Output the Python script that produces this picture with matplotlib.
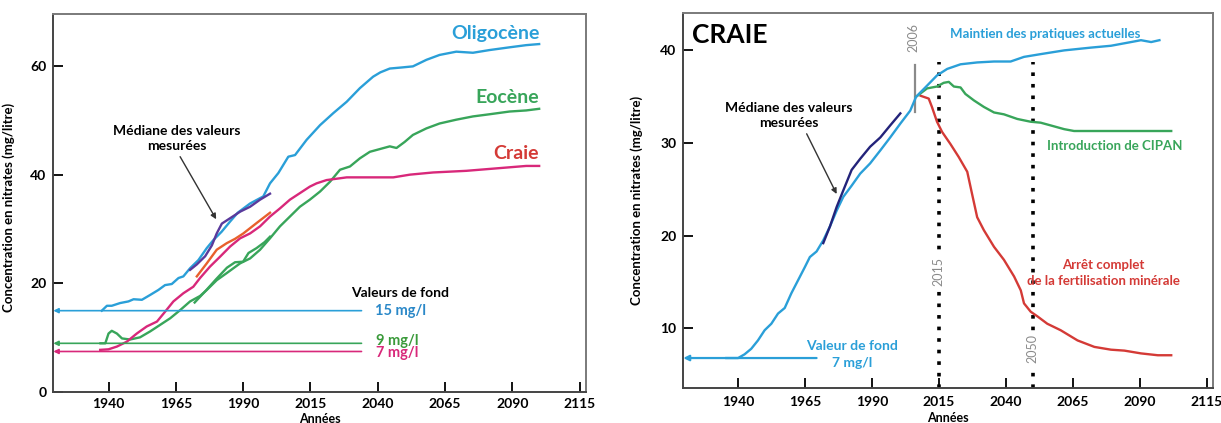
import matplotlib
matplotlib.use("Agg")
import matplotlib.pyplot as plt

plt.rcParams['font.family'] = ['Lato', 'DejaVu Sans']
plt.rcParams['font.weight'] = 'bold'

# ---------------- left panel data ----------------
oligo_years = [1937.5, 1939.4, 1941.2, 1944.3, 1947.4, 1949.3, 1952.4, 1955.5, 1958.5, 1961, 1963.5,
               1966, 1967.8, 1970.3, 1973.4, 1976.5, 1979, 1982, 1985.2, 1988, 1992.6, 1997.5, 2000,
               2003.1, 2006.8, 2009.3, 2013.6, 2018.6, 2023.5, 2028.5, 2033.4, 2038.3, 2041, 2044.5,
               2049, 2053.1, 2058.1, 2063, 2069.2, 2075.4, 2081.6, 2089, 2095.2, 2100]
oligo_vals = [15.0, 15.9, 15.9, 16.4, 16.7, 17.1, 17.0, 17.9, 18.8, 19.7, 19.9,
              21.0, 21.3, 22.8, 24.3, 26.5, 28.0, 29.5, 31.4, 33.0, 34.7, 36.0, 38.4,
              40.3, 43.3, 43.6, 46.4, 49.1, 51.3, 53.4, 55.9, 58.0, 58.8, 59.5,
              59.7, 59.9, 61.1, 62.0, 62.6, 62.4, 62.9, 63.4, 63.8, 64.0]

craie_years = [1936.9, 1940, 1943.1, 1946.8, 1950.5, 1954.2, 1958, 1961, 1964.1, 1967.8, 1971.5,
               1974, 1977.7, 1981.4, 1985.2, 1988.9, 1992.6, 1996.3, 2000, 2003.7, 2007.4, 2011.1,
               2014.8, 2017.3, 2021, 2028.5, 2037.1, 2045.8, 2052, 2060.6, 2072.9, 2085.3, 2095.2, 2100]
craie_vals = [7.8, 7.9, 8.4, 9.3, 10.8, 12.1, 13.0, 14.8, 16.7, 18.2, 19.4,
              21.0, 23.1, 24.9, 26.8, 28.3, 29.2, 30.5, 32.3, 33.8, 35.4, 36.6,
              37.8, 38.4, 39.0, 39.5, 39.5, 39.5, 40.0, 40.4, 40.7, 41.2, 41.6, 41.6]

craie_mes_years = [1972.8, 1976.5, 1980.2, 1983.9, 1987, 1990.1, 1995, 2000]
craie_mes_vals = [21.3, 23.7, 26.2, 27.4, 28.2, 29.2, 31.1, 33.0]

eoc_years = [1937, 1938.8, 1940, 1941.2, 1943.1, 1945, 1948, 1951.7, 1955.5, 1959.2, 1962.9, 1966.6,
             1970.3, 1974, 1976.5, 1980.2, 1983.9, 1988.9, 1992.6, 1996.3, 2000, 2003.7, 2007.4,
             2011.1, 2014.8, 2018.6, 2022.3, 2026, 2029.7, 2033.4, 2037.1, 2040.8, 2044.5, 2047,
             2050, 2053.1, 2058.1, 2063, 2069.2, 2075.4, 2081.6, 2089, 2095.2, 2100]
eoc_vals = [9.0, 9.0, 10.8, 11.3, 10.8, 9.9, 9.7, 10.1, 11.2, 12.4, 13.6, 15.1,
            16.7, 17.7, 18.8, 20.6, 21.9, 23.7, 24.6, 26.2, 28.3, 30.5, 32.3,
            34.1, 35.4, 36.9, 38.7, 40.9, 41.5, 43.0, 44.2, 44.7, 45.2, 44.9,
            46.0, 47.3, 48.5, 49.4, 50.1, 50.7, 51.1, 51.6, 51.8, 52.1]

eoc_mes_years = [1972, 1976, 1980, 1984, 1987, 1990, 1992, 1995, 1998, 2000]
eoc_mes_vals = [16.5, 18.6, 20.8, 22.9, 23.9, 24.0, 25.6, 26.5, 27.6, 28.6]

oligo_mes_years = [1970.3, 1972.8, 1975.9, 1978.4, 1980.2, 1982.1, 1985.2, 1988.9, 1992.6, 1996.3, 2000]
oligo_mes_vals = [22.5, 23.5, 25.0, 27.0, 29.2, 31.0, 32.0, 33.2, 34.1, 35.4, 36.5]

fond_vals = [15, 9, 7.5]
fond_labels = ['15 mg/l', '9 mg/l', '7 mg/l']
fond_end = 2034

# ---------------- right panel data ----------------
maint_years = [1935.6, 1940, 1942.4, 1944.9, 1947.4, 1949.9, 1952.4, 1954.9, 1957.4, 1959.9, 1962.4,
               1964.9, 1966.8, 1969.3, 1971.8, 1974.3, 1976.8, 1979.3, 1982.4, 1985.6, 1989.3, 1993.1,
               1996.8, 2000.6, 2004.3, 2006.5, 2010.6, 2014.3, 2018.1, 2023.1, 2029.3, 2035.6, 2041.8,
               2046.8, 2053.1, 2061.8, 2071.8, 2079.3, 2086.8, 2090.5, 2094.3, 2097.4]
maint_vals = [6.8, 6.8, 7.2, 7.8, 8.7, 9.8, 10.5, 11.6, 12.2, 13.8, 15.2,
              16.6, 17.7, 18.3, 19.5, 21.0, 22.7, 24.2, 25.4, 26.7, 27.8, 29.2,
              30.6, 32.1, 33.5, 35.0, 36.2, 37.3, 38.0, 38.5, 38.7, 38.8, 38.8,
              39.3, 39.6, 40.0, 40.3, 40.5, 40.9, 41.1, 40.9, 41.1]

med_years = [1971.8, 1974.3, 1976.8, 1979.3, 1982.4, 1985.6, 1989.3, 1993.1, 1996.8, 2000.6]
med_vals = [19.2, 21.0, 23.1, 24.9, 27.1, 28.3, 29.6, 30.6, 31.9, 33.2]

cipan_years = [2006.5, 2010.6, 2014.3, 2016.8, 2018.7, 2020.6, 2023.1, 2024.9, 2028.1, 2031.8, 2035.6,
               2039.3, 2044.3, 2049.3, 2053, 2056.8, 2061.8, 2065.5, 2074.3, 2086.8, 2101.8]
cipan_vals = [35.0, 35.9, 36.1, 36.5, 36.6, 36.1, 36.0, 35.3, 34.6, 33.9, 33.3,
              33.1, 32.6, 32.3, 32.2, 31.9, 31.5, 31.3, 31.3, 31.3, 31.3]

arret_years = [2008.2, 2011.2, 2012.4, 2014.3, 2016.2, 2019.3, 2022.4, 2025.6, 2027.4, 2029.3, 2031.8,
               2035.6, 2039.3, 2043.1, 2045.6, 2046.8, 2049.3, 2051.8, 2055.5, 2060.5, 2066.8, 2073.1,
               2079.3, 2084.3, 2090.5, 2096.8, 2101.8]
arret_vals = [35.1, 34.8, 33.9, 32.3, 31.2, 29.9, 28.5, 26.9, 24.5, 22.0, 20.6,
              18.8, 17.4, 15.6, 14.1, 12.7, 11.8, 11.3, 10.5, 9.8, 8.7, 8.0,
              7.7, 7.6, 7.3, 7.1, 7.1]

fond_craie = 6.8
fond_craie_end = 1969.3
key_years = [2015, 2050]
year_2006 = 2006

x_ticks = [1940, 1965, 1990, 2015, 2040, 2065, 2090, 2115]
x_lim = (1919.5, 2117.3)

C_BLUE = '#2a9fd8'
C_GREEN = '#38a55a'
C_PINK = '#d8287a'
C_RED = '#d43a36'
C_ORANGE = '#e8602c'
C_PURPLE = '#5a3a9c'
C_NAVY = '#23237a'
C_GRAY = '#8a8a8a'


def style_axes(ax, yticks, ylim):
    ax.set_xlim(*x_lim)
    ax.set_ylim(*ylim)
    ax.set_xticks(x_ticks)
    ax.set_yticks(yticks)
    ax.tick_params(direction='in', length=7, width=1.3, labelsize=10, colors='black')
    ax.tick_params(axis='x', pad=4)
    ax.tick_params(axis='y', pad=5)
    for lab in ax.get_xticklabels() + ax.get_yticklabels():
        lab.set_fontweight('bold')
    for side in ['left', 'bottom']:
        ax.spines[side].set_color('#444444')
        ax.spines[side].set_linewidth(1.4)
    for side in ['top', 'right']:
        ax.spines[side].set_color('#7a7a7a')
        ax.spines[side].set_linewidth(1.4)
    ax.set_ylabel('Concentration en nitrates (mg/litre)', fontsize=9.5, fontweight='bold')
    ax.set_xlabel('Années', fontsize=9, fontweight='bold')


fig = plt.figure(figsize=(12.21, 4.23), dpi=100)
ax1 = fig.add_axes([0.0437, 0.0726, 0.436, 0.894])
ax2 = fig.add_axes([0.5596, 0.0835, 0.4336, 0.885])

# ---------------- left ----------------
style_axes(ax1, [0, 20, 40, 60], (0, 69.5))
ax1.yaxis.set_label_coords(-0.072, 0.49)
ax1.xaxis.set_label_coords(0.5, -0.054)

lw = 1.7
for v, lab, c in zip(fond_vals, fond_labels, [C_BLUE, C_GREEN, C_PINK]):
    ax1.annotate('', xy=(x_lim[0], v), xytext=(fond_end, v),
                 arrowprops=dict(arrowstyle='-|>', color=c, lw=1.2, mutation_scale=7,
                                 shrinkA=0, shrinkB=0))
ax1.text(fond_end + 5, fond_vals[0], fond_labels[0], color='#2a88c8', fontsize=10.5,
         fontweight='bold', va='center', ha='left')
ax1.text(fond_end + 5.5, fond_vals[1] + 0.5, fond_labels[1], color='#3a9a3a', fontsize=10.5,
         fontweight='bold', va='center', ha='left')
ax1.text(fond_end + 5.5, fond_vals[2] - 0.3, fond_labels[2], color=C_PINK, fontsize=10.5,
         fontweight='bold', va='center', ha='left')
ax1.text(2048.5, 18.3, 'Valeurs de fond', fontsize=10, fontweight='bold', ha='center', va='center')

ax1.plot(eoc_years, eoc_vals, color=C_GREEN, lw=lw)
ax1.plot(eoc_mes_years, eoc_mes_vals, color=C_GREEN, lw=lw)
ax1.plot(craie_years, craie_vals, color=C_PINK, lw=lw)
ax1.plot(craie_mes_years, craie_mes_vals, color=C_ORANGE, lw=lw)
ax1.plot(oligo_years, oligo_vals, color=C_BLUE, lw=lw)
ax1.plot(oligo_mes_years, oligo_mes_vals, color=C_PURPLE, lw=lw)

ax1.text(oligo_years[-1], 66.0, 'Oligocène', color=C_BLUE, fontsize=14, fontweight='bold',
         ha='right', va='center')
ax1.text(eoc_years[-1], 54.2, 'Eocène', color=C_GREEN, fontsize=14, fontweight='bold',
         ha='right', va='center')
ax1.text(craie_years[-1], 43.8, 'Craie', color=C_RED, fontsize=14, fontweight='bold',
         ha='right', va='center')

ax1.text(1965.5, 46.6, 'Médiane des valeurs\nmesurées', fontsize=10, fontweight='bold',
         ha='center', va='center', linespacing=1.35)
ax1.annotate('', xy=(1980, 31.8), xytext=(1966.6, 43.3),
             arrowprops=dict(arrowstyle='-|>', color='#333333', lw=1.0, mutation_scale=8,
                             shrinkA=0, shrinkB=0))

# ---------------- right ----------------
style_axes(ax2, [10, 20, 30, 40], (3.6, 44))
ax2.yaxis.set_label_coords(-0.076, 0.5)
ax2.xaxis.set_label_coords(0.5, -0.066)
ax2.tick_params(axis='x', pad=6)

for yr in key_years:
    ax2.axvline(yr, ymax=0.87, color='black', lw=2.6, linestyle=(0, (1.0, 2.2)))
ax2.plot([year_2006, year_2006], [33.3, 38.4], color=C_GRAY, lw=1.6)
ax2.text(year_2006 - 0.5, 41.4, str(year_2006), rotation=90, color=C_GRAY, fontsize=9,
         fontweight='normal', ha='center', va='center')
ax2.text(key_years[0], 16.1, str(key_years[0]), rotation=90, color=C_GRAY, fontsize=9,
         fontweight='normal', ha='center', va='center',
         bbox=dict(facecolor='white', edgecolor='none', pad=1))
ax2.text(key_years[1], 7.8, str(key_years[1]), rotation=90, color=C_GRAY, fontsize=9,
         fontweight='normal', ha='center', va='center',
         bbox=dict(facecolor='white', edgecolor='none', pad=1))

ax2.annotate('', xy=(x_lim[0], fond_craie), xytext=(fond_craie_end, fond_craie),
             arrowprops=dict(arrowstyle='-|>', color=C_BLUE, lw=1.6, mutation_scale=8,
                             shrinkA=0, shrinkB=0))
ax2.text(1982.5, 7.2, 'Valeur de fond\n7 mg/l', color=C_BLUE, fontsize=10, fontweight='bold',
         ha='center', va='center', linespacing=1.45)

ax2.plot(arret_years, arret_vals, color=C_RED, lw=lw)
ax2.plot(cipan_years, cipan_vals, color=C_GREEN, lw=lw)
ax2.plot(maint_years, maint_vals, color=C_BLUE, lw=lw)
ax2.plot(med_years, med_vals, color=C_NAVY, lw=lw)

ax2.text(1922.9, 41.7, 'CRAIE', fontsize=19, fontweight='bold', ha='left', va='center')
ax2.text(2019.3, 41.8, 'Maintien des pratiques actuelles', color=C_BLUE, fontsize=9.5,
         fontweight='bold', ha='left', va='center')
ax2.text(2055.3, 29.7, 'Introduction de CIPAN', color=C_GREEN, fontsize=9.5,
         fontweight='bold', ha='left', va='center')
ax2.text(2076.3, 16.0, 'Arrêt complet\nde la fertilisation minérale', color=C_RED, fontsize=9.5,
         fontweight='bold', ha='center', va='center', linespacing=1.4)
ax2.text(1958.9, 33.0, 'Médiane des valeurs\nmesurées', fontsize=10, fontweight='bold',
         ha='center', va='center', linespacing=1.35)
ax2.annotate('', xy=(1976.8, 24.5), xytext=(1965.6, 31.0),
             arrowprops=dict(arrowstyle='-|>', color='#333333', lw=1.0, mutation_scale=8,
                             shrinkA=0, shrinkB=0))

fig.savefig('out.png', dpi=100)
